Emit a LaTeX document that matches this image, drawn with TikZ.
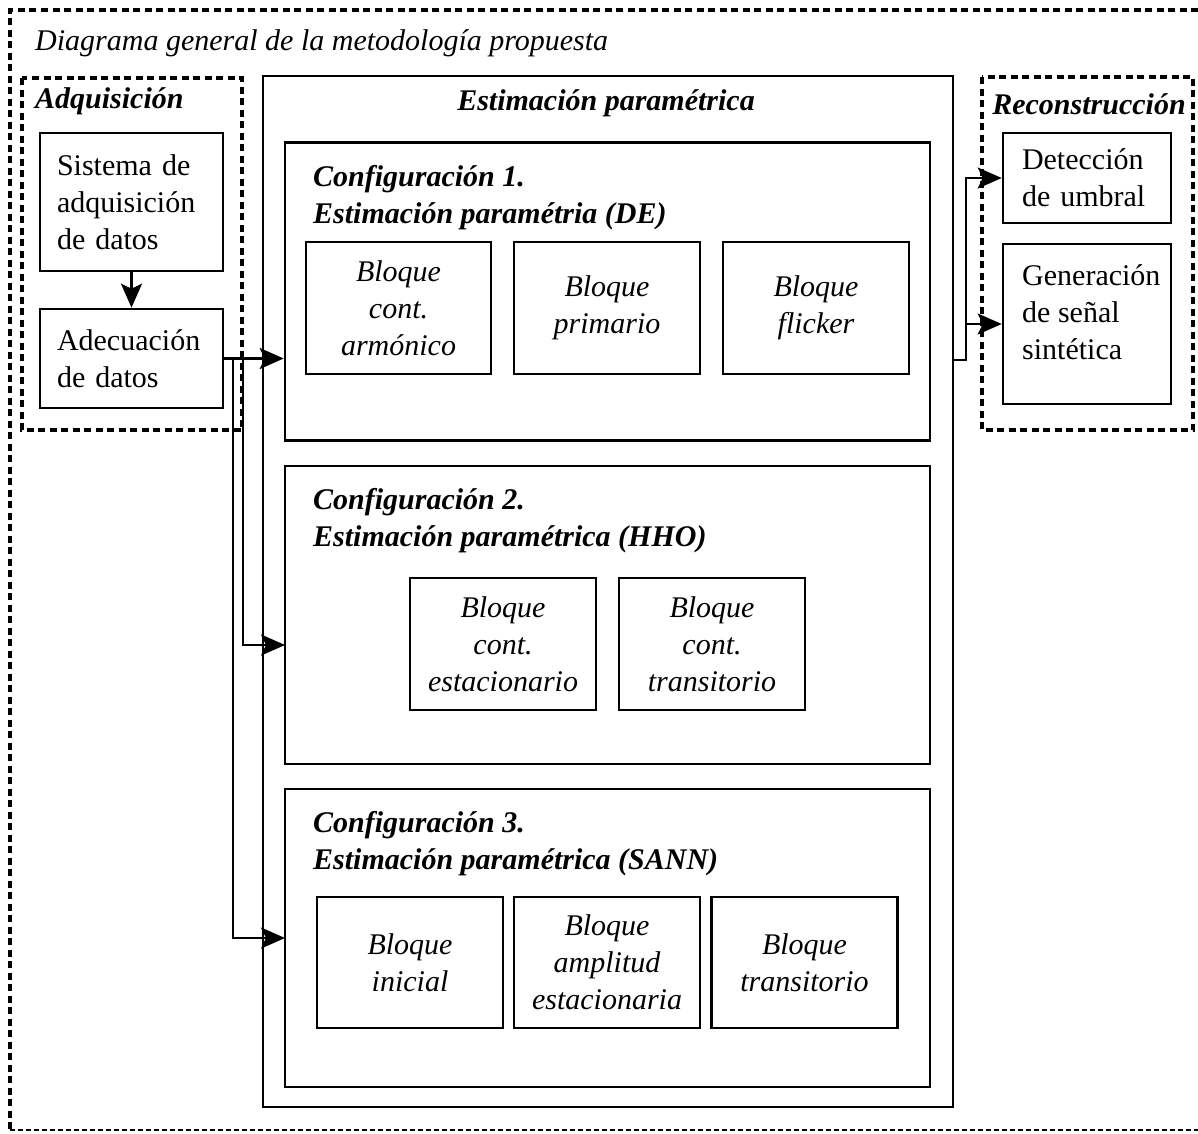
\documentclass[tikz,border=0pt]{standalone}
\usepackage{fontspec}
\setmainfont{Liberation Serif}
\usetikzlibrary{arrows.meta}
\begin{document}
\begin{tikzpicture}[x=1pt,y=-1pt,
  txt/.style={font=\fontsize{30}{37}\selectfont, inner sep=0pt},
  box/.style={draw, line width=2.6pt, inner sep=0pt},
  blk/.style={box, font=\fontsize{30}{37}\selectfont\itshape, align=center,
              minimum width=186pt, minimum height=132pt},
  lbox/.style={box, font=\fontsize{30}{37}\selectfont, align=left},
  cfg/.style={box, minimum width=645pt, minimum height=298pt},
  heading/.style={txt, font=\fontsize{30}{37}\selectfont\bfseries\itshape},
  group/.style={line width=3.6pt, dash pattern=on 7pt off 4.5pt},
  arr/.style={line width=2.4pt, -{Stealth[length=24pt,width=21pt,inset=5pt]}},
]
\useasboundingbox (0,0) rectangle (1198,1133);

% outer frame
\draw[group] (1198,10) -- (10,10) -- (10,1130);
\draw[line width=1.6pt, dash pattern=on 5pt off 3pt] (10,1130) -- (1198,1130);
\node[txt, anchor=west, font=\fontsize{30}{37}\selectfont\itshape] (title) at (35,43)
  {Diagrama general de la metodología propuesta};

% acquisition group
\draw[group] (22,78) rectangle (242,430);
\node[heading, anchor=west] (adqt) at (35,101) {Adquisición};
\node[lbox, text width=149pt, inner xsep=17pt, minimum height=138pt] (sys) at (131.5,202)
  {Sistema de\\adquisición\\de datos};
\node[lbox, text width=149pt, inner xsep=17pt, minimum height=99pt] (adc) at (131.5,358.5)
  {Adecuación\\de datos};

% parametric estimation
\node[box, minimum width=690pt, minimum height=1031pt] (est) at (608,591.5) {};
\node[heading] (estt) at (606,103) {Estimación paramétrica};

\node[cfg] (c1) at (607.5,291.5) {};
\node[heading, anchor=west, align=left] (c1t) at (313,197.5)
  {Configuración 1.\\Estimación paramétria (DE)};
\node[blk, minimum width=185pt] (b11) at (398.5,308) {Bloque\\cont.\\armónico};
\node[blk] (b12) at (607,308) {Bloque\\primario};
\node[blk] (b13) at (816,308) {Bloque\\flicker};

\node[cfg] (c2) at (607.5,615) {};
\node[heading, anchor=west, align=left] (c2t) at (313,520.5)
  {Configuración 2.\\Estimación paramétrica (HHO)};
\node[blk] (b21) at (503,644) {Bloque\\cont.\\estacionario};
\node[blk] (b22) at (712,644) {Bloque\\cont.\\transitorio};

\node[cfg] (c3) at (607.5,938) {};
\node[heading, anchor=west, align=left] (c3t) at (313,843.5)
  {Configuración 3.\\Estimación paramétrica (SANN)};
\node[blk, minimum height=131pt] (b31) at (410,962.5) {Bloque\\inicial};
\node[blk, minimum height=131pt] (b32) at (607,962.5) {Bloque\\amplitud\\estacionaria};
\node[blk, minimum height=131pt] (b33) at (804.5,962.5) {Bloque\\transitorio};

% reconstruction group
\draw[group] (982,77) rectangle (1193,430);
\node[heading] (rect) at (1089,104) {Reconstrucción};
\node[lbox, text width=130pt, inner xsep=19pt, minimum height=90pt] (det) at (1087,178)
  {Detección\\de umbral};
\node[box, minimum width=168pt, minimum height=160pt] (gen) at (1087,324) {};
\node[txt, anchor=west, align=left] (gent) at (1022,312)
  {Generación\\de señal\\sintética};

% connectors
\coordinate (busA) at (243,0);
\coordinate (busB) at (233,0);
\coordinate (in2) at (285,645);
\coordinate (in3) at (285,938);
\coordinate (out) at (953,360);
\coordinate (busR) at (966,0);

\draw[arr] (sys) -- (adc);
\draw[arr] (adc.east) -- (adc.east -| c1.west);
\draw[arr] (adc.east) -| (busA |- in2) -- (in2);
\draw[arr] (adc.east) -| (busB |- in3) -- (in3);
\draw[arr] (out) -| (busR |- det.west) -- (det.west);
\draw[arr] (out) -| (busR |- gen.west) -- (gen.west);
\end{tikzpicture}
\end{document}
